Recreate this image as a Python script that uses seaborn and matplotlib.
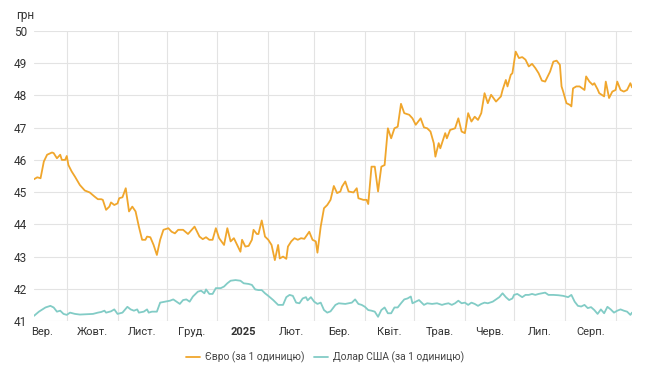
import numpy as np
import pandas as pd
import matplotlib
matplotlib.use("Agg")
import matplotlib.pyplot as plt
import seaborn as sns
from matplotlib.lines import Line2D

# ---------------- data ----------------
start_date = "2024-09-11"
end_date = "2025-09-11"

series_names = ["Євро (за 1 одиницю)", "Долар США (за 1 одиницю)"]
series_colors = ["#f0a62c", "#82ccc6"]

eur_days = [0, 2, 4, 6, 8, 11, 12, 14, 16, 17, 19, 20, 21, 23, 25, 28, 31, 34, 37, 39,
            41, 42, 44, 46, 47, 49, 51, 52, 54, 56, 58, 60, 62, 64, 66, 68, 69, 71, 73, 75,
            77, 79, 82, 84, 86, 88, 91, 94, 98, 101, 103, 105, 107, 109, 111, 113, 116, 118, 120, 122,
            124, 126, 127, 129, 131, 133, 134, 136, 137, 139, 141, 143, 145, 147, 149, 150, 152, 154, 155, 157,
            159, 161, 163, 165, 168, 170, 172, 173, 175, 177, 179, 181, 183, 185, 187, 188, 190, 192, 195, 197,
            198, 201, 203, 204, 206, 208, 210, 212, 214, 216, 218, 220, 222, 224, 226, 229, 231, 233, 236, 238,
            240, 242, 244, 245, 247, 248, 251, 252, 254, 257, 259, 261, 263, 265, 267, 269, 271, 273, 275, 277,
            279, 282, 285, 286, 288, 289, 291, 292, 294, 296, 298, 300, 302, 304, 306, 308, 310, 312, 315, 317,
            319, 321, 322, 323, 325, 327, 328, 329, 331, 333, 336, 337, 339, 341, 342, 344, 345, 348, 349, 351,
            353, 355, 356, 358, 360, 362, 364, 365]
eur_vals = [45.40, 45.46, 45.43, 45.95, 46.16, 46.23, 46.21, 46.05, 46.16, 46.00, 46.00, 46.12, 45.84, 45.64, 45.48, 45.22, 45.05, 44.99, 44.86, 44.78,
            44.78, 44.76, 44.45, 44.55, 44.68, 44.60, 44.65, 44.81, 44.84, 45.12, 44.40, 44.55, 44.40, 43.93, 43.52, 43.52, 43.62, 43.60, 43.36, 43.05,
            43.52, 43.83, 43.88, 43.77, 43.72, 43.83, 43.83, 43.70, 43.93, 43.62, 43.54, 43.60, 43.52, 43.52, 43.88, 43.57, 43.36, 43.88, 43.47, 43.57,
            43.36, 43.15, 43.52, 43.31, 43.33, 43.52, 43.83, 43.70, 43.70, 44.12, 43.62, 43.52, 43.36, 42.89, 43.36, 42.94, 43.00, 42.93, 43.31, 43.47,
            43.57, 43.52, 43.57, 43.55, 43.77, 43.52, 43.47, 43.12, 43.93, 44.50, 44.60, 44.76, 45.19, 44.97, 45.02, 45.17, 45.33, 45.02, 44.99, 45.12,
            44.81, 44.76, 44.76, 44.63, 45.79, 45.79, 45.02, 45.79, 45.84, 46.98, 46.67, 46.98, 47.03, 47.74, 47.45, 47.40, 47.29, 47.09, 47.29, 47.01,
            46.98, 46.88, 46.52, 46.10, 46.52, 46.36, 46.83, 46.67, 46.93, 46.98, 47.29, 46.88, 46.83, 47.45, 47.19, 47.34, 47.24, 47.45, 48.07, 47.76,
            48.02, 47.81, 47.97, 48.17, 48.48, 48.28, 48.64, 48.69, 49.36, 49.16, 49.19, 49.11, 48.90, 48.98, 48.85, 48.69, 48.46, 48.43, 48.74, 49.05,
            49.08, 48.95, 48.28, 48.12, 47.76, 47.71, 47.66, 48.22, 48.28, 48.28, 48.17, 48.59, 48.43, 48.33, 48.38, 48.19, 48.07, 47.97, 48.43, 47.92,
            48.12, 48.17, 48.43, 48.17, 48.12, 48.17, 48.38, 48.25]

usd_days = [0, 3, 7, 10, 12, 14, 16, 18, 20, 22, 25, 28, 32, 36, 39, 41, 43, 44, 47, 49,
            51, 54, 57, 59, 61, 63, 64, 67, 69, 70, 72, 75, 77, 80, 83, 85, 87, 89, 91, 93,
            95, 97, 100, 102, 104, 105, 107, 109, 111, 114, 116, 118, 120, 123, 126, 128, 131, 133, 135, 137,
            139, 141, 143, 146, 149, 152, 154, 156, 158, 160, 162, 164, 166, 167, 169, 171, 173, 175, 177, 179,
            181, 184, 186, 190, 192, 194, 196, 198, 200, 202, 204, 206, 208, 210, 212, 214, 216, 218, 220, 222,
            224, 226, 228, 230, 231, 233, 235, 238, 240, 243, 246, 249, 251, 253, 255, 257, 259, 261, 263, 265,
            267, 269, 271, 273, 275, 277, 280, 282, 284, 286, 288, 290, 292, 293, 295, 298, 300, 302, 304, 306,
            308, 310, 312, 314, 317, 320, 323, 326, 328, 330, 332, 334, 336, 338, 340, 342, 344, 346, 348, 350,
            352, 354, 356, 358, 360, 362, 364, 365]
usd_vals = [41.16, 41.29, 41.42, 41.47, 41.42, 41.29, 41.32, 41.22, 41.19, 41.26, 41.22, 41.20, 41.21, 41.22, 41.26, 41.28, 41.32, 41.26, 41.30, 41.36,
            41.22, 41.26, 41.44, 41.36, 41.32, 41.36, 41.26, 41.29, 41.36, 41.26, 41.29, 41.29, 41.57, 41.60, 41.63, 41.67, 41.60, 41.53, 41.65, 41.67,
            41.60, 41.76, 41.91, 41.94, 41.86, 41.98, 41.84, 41.84, 42.02, 42.02, 42.07, 42.17, 42.25, 42.27, 42.25, 42.17, 42.15, 42.12, 41.98, 41.96,
            41.96, 41.86, 41.78, 41.65, 41.50, 41.50, 41.74, 41.81, 41.78, 41.57, 41.55, 41.70, 41.74, 41.64, 41.74, 41.60, 41.53, 41.57, 41.34, 41.26,
            41.30, 41.50, 41.55, 41.53, 41.55, 41.57, 41.67, 41.53, 41.50, 41.44, 41.34, 41.32, 41.29, 41.13, 41.34, 41.42, 41.24, 41.24, 41.42, 41.42,
            41.55, 41.67, 41.70, 41.76, 41.55, 41.60, 41.65, 41.50, 41.55, 41.53, 41.55, 41.50, 41.53, 41.55, 41.50, 41.55, 41.63, 41.55, 41.57, 41.50,
            41.57, 41.53, 41.47, 41.53, 41.57, 41.55, 41.60, 41.67, 41.74, 41.86, 41.74, 41.65, 41.70, 41.81, 41.84, 41.74, 41.81, 41.81, 41.84, 41.81,
            41.84, 41.86, 41.88, 41.81, 41.81, 41.80, 41.78, 41.74, 41.81, 41.60, 41.47, 41.45, 41.50, 41.40, 41.43, 41.34, 41.22, 41.36, 41.24, 41.44,
            41.36, 41.26, 41.32, 41.36, 41.32, 41.29, 41.19, 41.26]

month_labels = ["Вер.", "Жовт.", "Лист.", "Груд.", "2025", "Лют.", "Бер.",
                "Квіт.", "Трав.", "Черв.", "Лип.", "Серп."]
y_ticks = [41, 42, 43, 44, 45, 46, 47, 48, 49, 50]
y_unit = "грн"

# ---------------- build table ----------------
t0 = pd.Timestamp(start_date)
df = pd.concat([
    pd.DataFrame({"date": t0 + pd.to_timedelta(eur_days, unit="D"),
                  "value": eur_vals, "series": series_names[0]}),
    pd.DataFrame({"date": t0 + pd.to_timedelta(usd_days, unit="D"),
                  "value": usd_vals, "series": series_names[1]}),
], ignore_index=True)

# ---------------- style ----------------
sns.set_theme(style="white")
plt.rcParams["font.family"] = ["Roboto", "DejaVu Sans"]

W, H = 650, 383
fig = plt.figure(figsize=(W / 100, H / 100), dpi=100)
ax = fig.add_axes([34 / W, 1 - 321 / H, (632 - 34) / W, (321 - 31) / H])

palette = dict(zip(series_names, series_colors))
sns.lineplot(data=df, x="date", y="value", hue="series", palette=palette,
             estimator=None, linewidth=1.3, legend=False, ax=ax, zorder=3)

# axes limits
ax.set_xlim(pd.Timestamp(start_date), pd.Timestamp(end_date))
ax.set_ylim(y_ticks[0], y_ticks[-1])

# month boundaries -> gridlines, mid-months -> labels
month_starts = pd.date_range(pd.Timestamp("2024-09-01"), pd.Timestamp("2025-09-01"), freq="MS")
mids = [month_starts[i] + (month_starts[i + 1] - month_starts[i]) / 2 for i in range(len(month_starts) - 1)]
ax.set_xticks(month_starts[1:], minor=True)
ax.set_xticks(mids)
ax.set_xticklabels(month_labels)
for lbl in ax.get_xticklabels():
    if lbl.get_text() == "2025":
        lbl.set_fontweight("bold")

ax.set_yticks(y_ticks)
ax.set_yticklabels([str(v) for v in y_ticks])

ax.grid(which="minor", axis="x", color="#e3e3e3", linewidth=0.8)
ax.grid(which="major", axis="y", color="#e3e3e3", linewidth=0.8)
ax.grid(which="major", axis="x", visible=False)
ax.tick_params(axis="both", which="both", length=0)
ax.tick_params(axis="x", labelsize=8, colors="#333333", pad=4)
ax.tick_params(axis="y", labelsize=8.5, colors="#333333", pad=5)
for s in ax.spines.values():
    s.set_visible(False)
ax.set_xlabel("")
ax.set_ylabel("")

fig.text(16 / W, 1 - 15 / H, y_unit, fontsize=8.5, color="#333333", va="center", ha="left")

handles = [Line2D([0], [0], color=c, lw=1.3) for c in series_colors]
fig.legend(handles, series_names, loc="center", bbox_to_anchor=(0.5, 1 - 357 / H),
           ncol=2, frameon=False, fontsize=7.4, handlelength=1.4, handletextpad=0.5,
           columnspacing=0.9, labelcolor="#444444")

fig.savefig("out.png", dpi=100)
